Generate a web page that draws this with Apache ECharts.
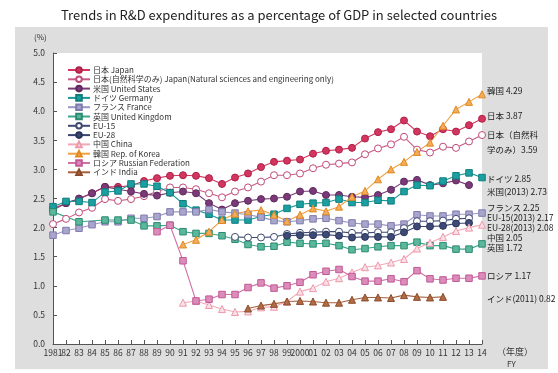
<!DOCTYPE html>
<html><head><meta charset="utf-8">
<script src="https://cdn.jsdelivr.net/npm/echarts@6/dist/echarts.min.js"></script>
<style>html,body{margin:0;padding:0;background:#fff}#c{width:558px;height:373px}</style>
</head><body><div id="c"></div>
<script>
var years = ['1981','82','83','84','85','86','87','88','89','90','91','92','93','94','95','96','97','98','99','2000','01','02','03','04','05','06','07','08','09','10','11','12','13','14'];
var yTicks = [0,0.5,1,1.5,2,2.5,3,3.5,4,4.5,5];
var N = null;
var japan   = [2.33,2.42,2.49,2.59,2.70,2.70,2.72,2.80,2.85,2.89,2.90,2.89,2.85,2.75,2.86,2.93,3.04,3.13,3.15,3.17,3.27,3.32,3.34,3.37,3.53,3.64,3.69,3.84,3.65,3.57,3.69,3.65,3.76,3.87];
var japanNS = [2.06,2.15,2.26,2.34,2.49,2.46,2.49,2.54,2.62,2.69,2.69,2.66,2.59,2.52,2.62,2.69,2.79,2.90,2.90,2.93,3.02,3.08,3.10,3.12,3.26,3.36,3.43,3.56,3.34,3.29,3.39,3.37,3.48,3.59];
var usa     = [2.30,2.42,2.50,2.59,2.70,2.66,2.62,2.58,2.55,2.60,2.62,2.59,2.42,2.31,2.42,2.46,2.49,2.50,2.53,2.62,2.63,2.56,2.56,2.53,2.52,2.56,2.65,2.79,2.82,2.73,2.76,2.81,2.73,N];
var germany = [2.36,2.45,2.45,2.43,2.61,2.63,2.75,2.75,2.71,2.60,2.41,2.30,2.23,2.13,2.13,2.13,2.19,2.23,2.33,2.40,2.42,2.43,2.49,2.43,2.43,2.47,2.46,2.62,2.73,2.72,2.80,2.89,2.94,2.86];
var france  = [1.87,1.95,1.99,2.05,2.10,2.10,2.16,2.16,2.19,2.27,2.27,2.27,2.31,2.27,2.25,2.22,2.18,2.12,2.10,2.12,2.15,2.16,2.12,2.08,2.06,2.06,2.03,2.06,2.22,2.20,2.20,2.23,2.23,2.25];
var uk      = [2.27,N,2.10,N,2.13,2.13,2.13,2.03,2.03,2.04,1.93,1.90,1.90,1.86,1.80,1.71,1.67,1.68,1.75,1.73,1.72,1.73,1.69,1.62,1.64,1.67,1.69,1.69,1.75,1.69,1.69,1.63,1.63,1.72];
var eu15    = [N,N,N,N,N,N,N,N,N,N,N,N,N,N,1.84,1.83,1.83,1.84,1.89,1.91,1.92,1.93,1.93,1.91,1.91,1.92,1.92,1.99,2.11,2.11,2.12,2.15,2.16,N];
var eu28    = [N,N,N,N,N,N,N,N,N,N,N,N,N,N,N,N,N,N,1.86,1.87,1.87,1.88,1.86,1.83,1.84,1.84,1.84,1.92,2.02,2.02,2.03,2.07,2.08,N];
var china   = [N,N,N,N,N,N,N,N,N,N,0.71,0.74,0.67,0.60,0.55,0.56,0.63,0.64,0.73,0.90,0.96,1.07,1.13,1.23,1.32,1.35,1.40,1.46,1.64,1.74,1.84,1.94,2.00,2.05];
var korea   = [N,N,N,N,N,N,N,N,N,N,1.71,1.79,1.93,2.13,2.24,2.28,2.30,2.22,2.11,2.22,2.33,2.28,2.36,2.53,2.63,2.83,3.00,3.13,3.30,3.46,3.75,4.03,4.16,4.29];
var russia  = [N,N,N,N,N,N,N,N,1.93,2.04,1.43,0.74,0.77,0.85,0.85,0.97,1.05,0.96,1.00,1.06,1.19,1.25,1.28,1.16,1.08,1.08,1.12,1.07,1.26,1.12,1.10,1.13,1.13,1.17];
var india   = [N,N,N,N,N,N,N,N,N,N,N,N,N,N,N,0.61,0.66,0.69,0.73,0.74,0.73,0.71,0.71,0.76,0.80,0.80,0.79,0.84,0.81,0.80,0.81,N,N,N];

var names = ['日本 Japan','日本(自然科学のみ) Japan(Natural sciences and engineering only)','米国 United States','ドイツ Germany','フランス France','英国 United Kingdom','EU-15','EU-28','中国 China','韓国 Rep. of Korea','ロシア Russian Federation','インド India'];
var endLabels = [
  ['韓国 4.29',487,91],['日本 3.87',487,116],['日本（自然科',487,135],['学のみ）3.59',487,150],
  ['ドイツ 2.85',487,179],['米国(2013) 2.73',487,192],['フランス 2.25',487,208],['EU-15(2013) 2.17',487,218],
  ['EU-28(2013) 2.08',487,228],['中国 2.05',487,238],['英国 1.72',487,248],['ロシア 1.17',487,276],['インド(2011) 0.82',487,299]
];

function S(name, data, symbol, lineColor, fill, border, size){
  return {name:name, type:'line', data:data, symbol:symbol, symbolSize:size||7, connectNulls:true,
    lineStyle:{color:lineColor, width:1.1}, itemStyle:{color:fill, borderColor:border, borderWidth:1}, z:2};
}
var series = [
  S(names[0], japan, 'circle', '#d2365e', '#d2365e', '#b02048', 7),
  S(names[1], japanNS, 'circle', '#c85a86', '#ffffff', '#c04a7a', 7),
  S(names[2], usa, 'circle', '#7a3a78', '#7a3a78', '#5e2a5e', 7),
  S(names[3], germany, 'rect', '#1a9898', '#1aa0a0', '#107c7c', 6.5),
  S(names[4], france, 'rect', '#9a96c4', '#a8a6cc', '#7f7aae', 6.5),
  S(names[5], uk, 'rect', '#3aa68a', '#5cb89c', '#2a8a70', 6.5),
  S(names[6], eu15, 'circle', '#404a72', '#ffffff', '#404a72', 7),
  S(names[7], eu28, 'circle', '#3a4670', '#3e4a76', '#2a3458', 7),
  S(names[8], china, 'triangle', '#f2a8b8', '#fbe0e6', '#ee98ac', 7),
  S(names[9], korea, 'triangle', '#f0a040', '#f2ac5a', '#e08a20', 7),
  S(names[10], russia, 'rect', '#d070a8', '#dc8cb8', '#c05896', 6.5),
  S(names[11], india, 'triangle', '#a8603c', '#b06c44', '#8a4a2c', 7)
];

var graphics = [
  {type:'rect', shape:{x:15,y:27,width:533,height:342}, style:{fill:'#dedede'}, z:-10, silent:true},
  {type:'text', left:34, top:33, style:{text:'(%)', font:'8px "Noto Sans CJK JP"', fill:'#333'}, z:10},
  {type:'text', left:497, top:347, style:{text:'（年度）', font:'9px "Noto Sans CJK JP"', fill:'#333'}, z:10},
  {type:'text', left:507, top:360, style:{text:'FY', font:'8px "Noto Sans CJK JP"', fill:'#333'}, z:10}
];
endLabels.forEach(function(l){
  graphics.push({type:'text', x:l[1], y:l[2], style:{text:l[0], font:'8.5px "Noto Sans CJK JP"', fill:'#222', textVerticalAlign:'middle'}, z:10});
});

var chart = echarts.init(document.getElementById('c'), null, {renderer:'canvas'});
chart.setOption({
  animation:false,
  backgroundColor:'#fff',
  title:{text:'Trends in R&D expenditures as a percentage of GDP in selected countries', left:'center', top:4,
    textStyle:{fontSize:13, fontWeight:'normal', color:'#222', fontFamily:'"Noto Sans CJK JP"'}},
  graphic:graphics,
  grid:{left:53, right:76, top:53, bottom:29, show:true, backgroundColor:'#ffffff', borderWidth:0},
  legend:{orient:'vertical', left:62, top:61, itemWidth:22, itemHeight:7, itemGap:1.3,
    data:names, selectedMode:false,
    textStyle:{fontSize:8, color:'#333', fontFamily:'"Noto Sans CJK JP"', lineHeight:8, padding:[0,0,0,-2]}},
  xAxis:{type:'category', data:years, boundaryGap:false,
    axisLine:{lineStyle:{color:'#555', width:1}},
    axisTick:{inside:true, length:4, interval:0, lineStyle:{color:'#555'}},
    axisLabel:{interval:0, fontSize:8.5, color:'#333', margin:5, fontFamily:'"Noto Sans CJK JP"'},
    splitLine:{show:false}},
  yAxis:{type:'value', min:0, max:5, interval:0.5,
    axisLine:{show:true, lineStyle:{color:'#555', width:1}},
    axisTick:{show:true, inside:true, length:4, lineStyle:{color:'#555'}},
    axisLabel:{fontSize:8.5, color:'#333', margin:8, fontFamily:'"Noto Sans CJK JP"',
      formatter:function(v){return yTicks.indexOf(v)>=0 ? v.toFixed(1) : '';}},
    splitLine:{show:false}},
  series:series
});
</script></body></html>
